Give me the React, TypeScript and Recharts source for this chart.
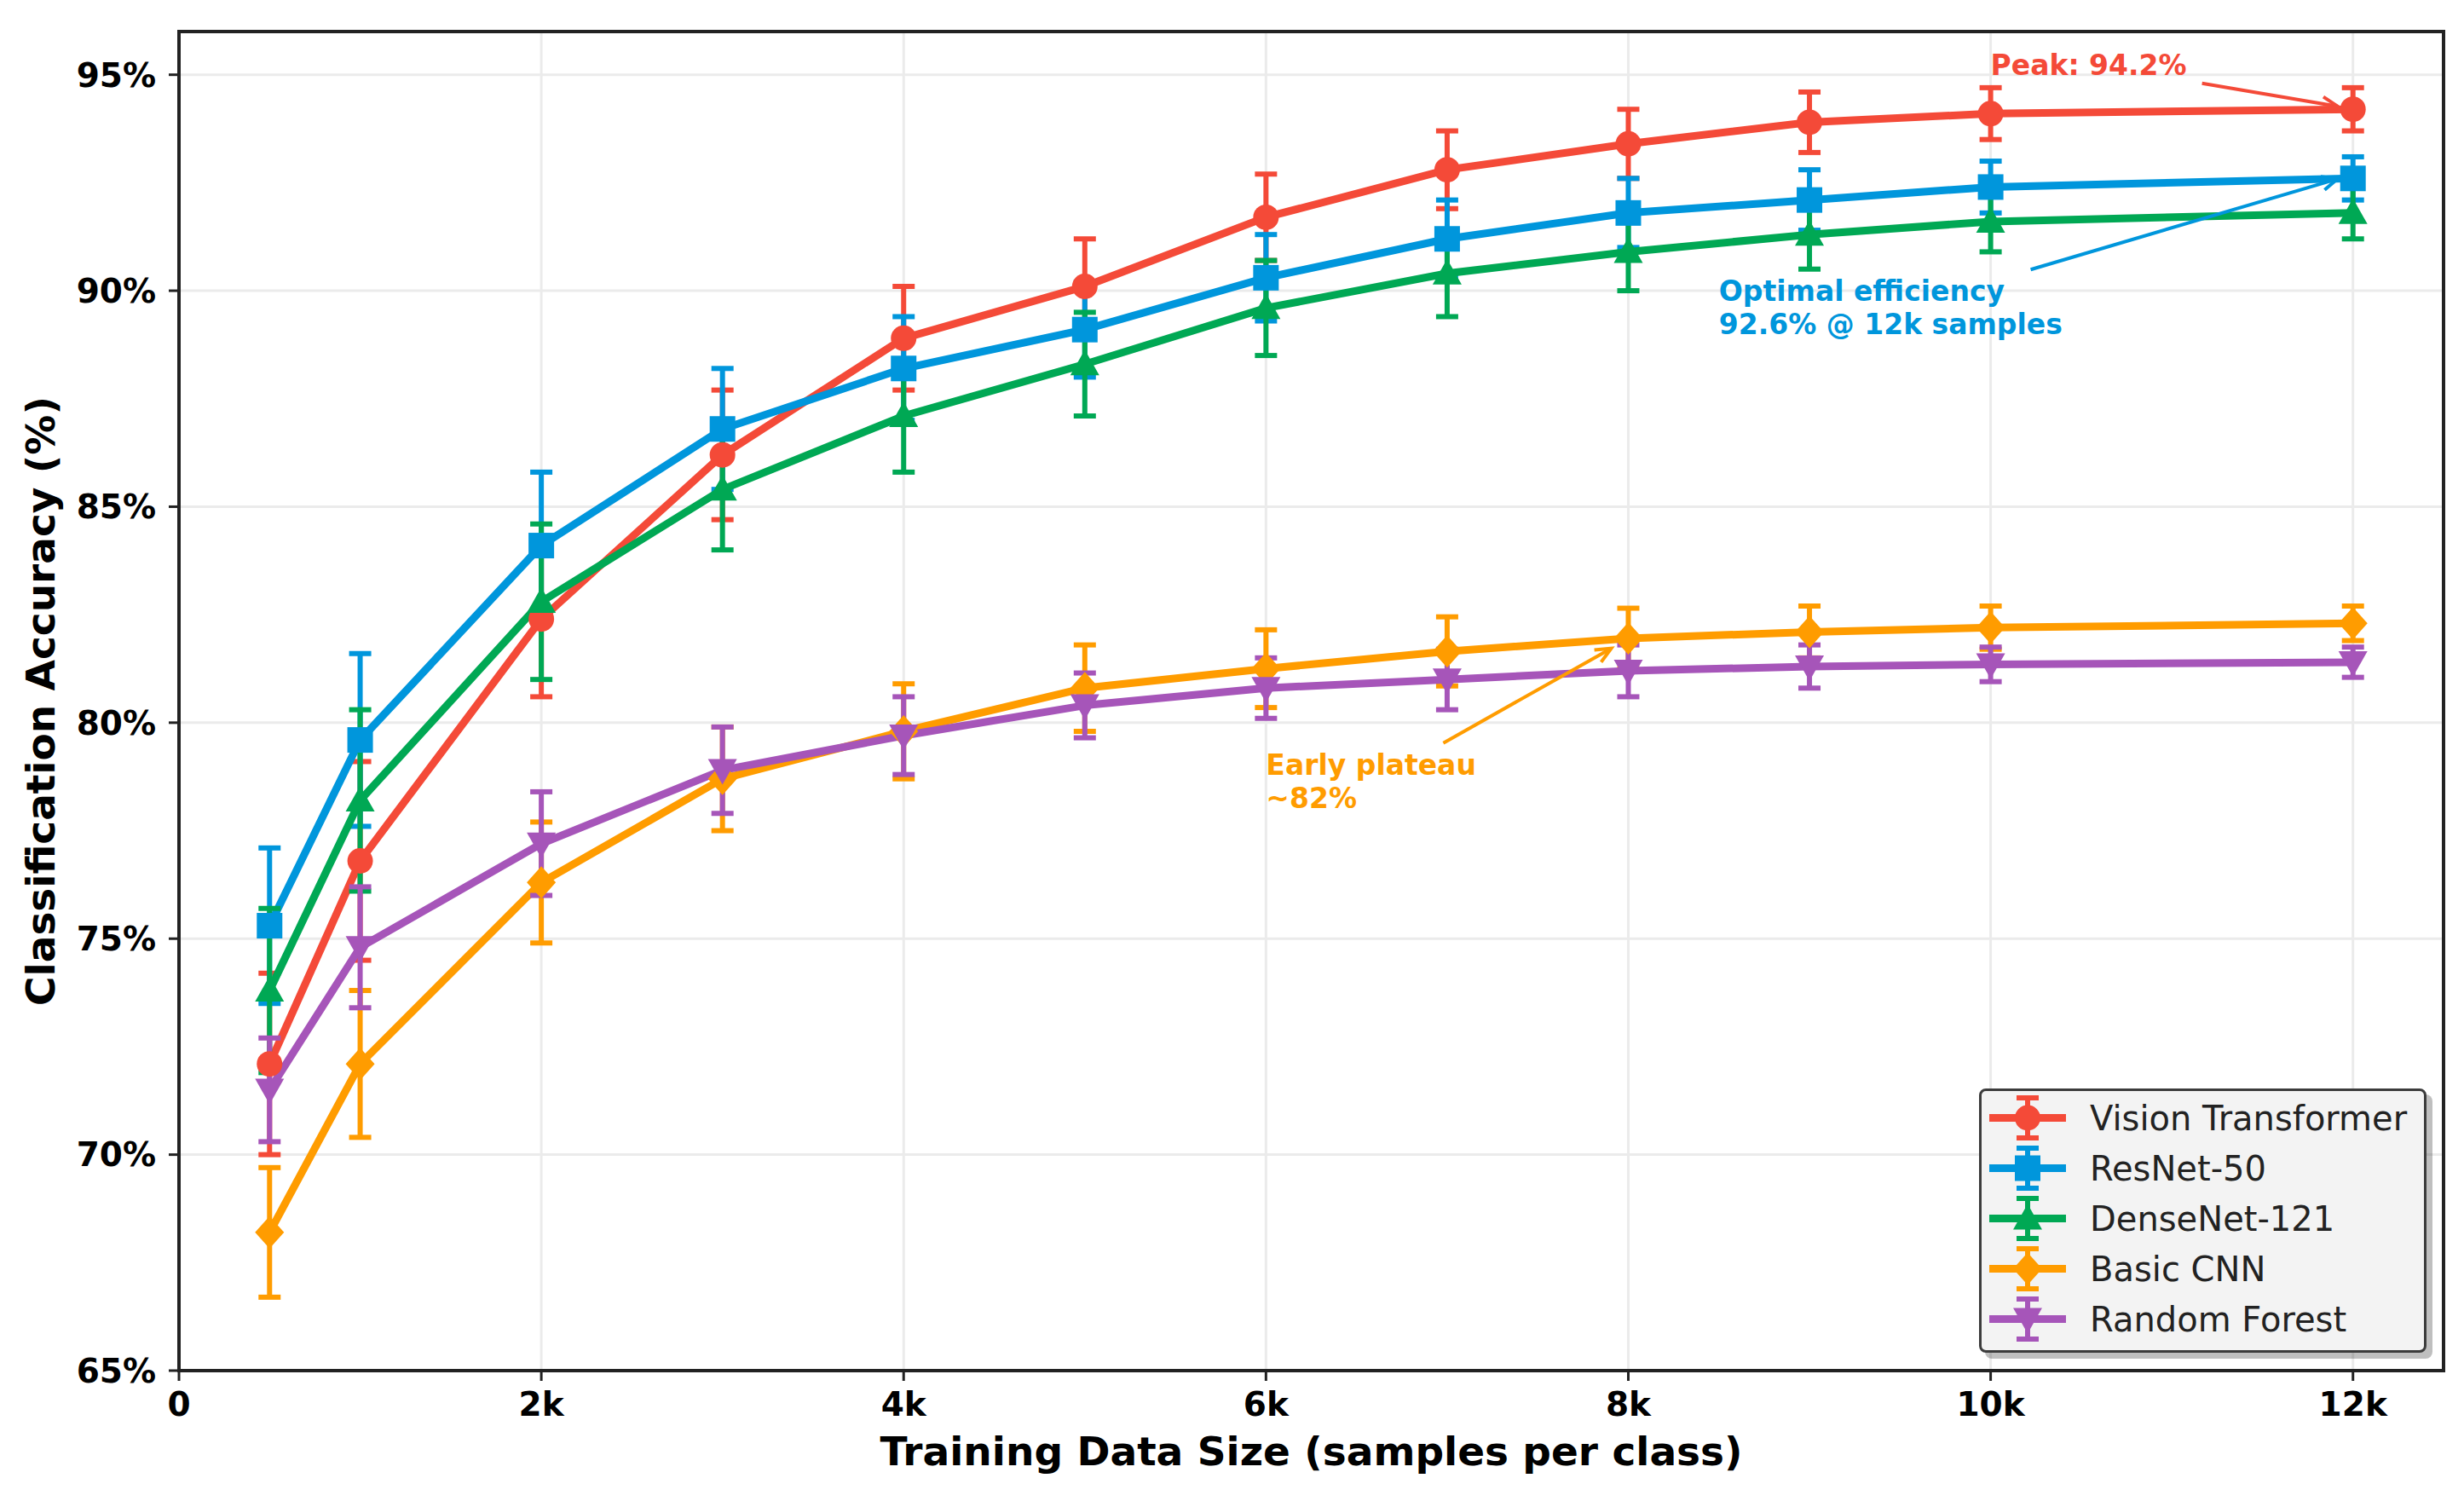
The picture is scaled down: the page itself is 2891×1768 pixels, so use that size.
import React from 'react';
import {
  LineChart, Line, XAxis, YAxis, CartesianGrid, ErrorBar,
  ReferenceArea, ReferenceDot, ReferenceLine, Legend,
} from 'recharts';

const FONT = '"DejaVu Sans", "Liberation Sans", sans-serif';

// ---------- data ----------
const sampleSizes = [500, 1000, 2000, 3000, 4000, 5000, 6000, 7000, 8000, 9000, 10000, 12000];

const vitAcc = [72.1, 76.8, 82.4, 86.2, 88.9, 90.1, 91.7, 92.8, 93.4, 93.9, 94.1, 94.2];
const vitErr = [2.1, 2.3, 1.8, 1.5, 1.2, 1.1, 1.0, 0.9, 0.8, 0.7, 0.6, 0.5];

const resnetAcc = [75.3, 79.6, 84.1, 86.8, 88.2, 89.1, 90.3, 91.2, 91.8, 92.1, 92.4, 92.6];
const resnetErr = [1.8, 2.0, 1.7, 1.4, 1.2, 1.1, 1.0, 0.9, 0.8, 0.7, 0.6, 0.5];

const densenetAcc = [73.8, 78.2, 82.8, 85.4, 87.1, 88.3, 89.6, 90.4, 90.9, 91.3, 91.6, 91.8];
const densenetErr = [1.9, 2.1, 1.8, 1.4, 1.3, 1.2, 1.1, 1.0, 0.9, 0.8, 0.7, 0.6];

const cnnAcc = [68.2, 72.1, 76.3, 78.7, 79.8, 80.8, 81.25, 81.65, 81.95, 82.1, 82.2, 82.3];
const cnnErr = [1.5, 1.7, 1.4, 1.2, 1.1, 1.0, 0.9, 0.8, 0.7, 0.6, 0.5, 0.4];

const rfAcc = [71.5, 74.8, 77.2, 78.9, 79.7, 80.4, 80.8, 81.0, 81.2, 81.3, 81.35, 81.4];
const rfErr = [1.2, 1.4, 1.2, 1.0, 0.9, 0.75, 0.7, 0.7, 0.6, 0.5, 0.4, 0.35];

const xTicks = [0, 2000, 4000, 6000, 8000, 10000, 12000];
const yTicks = [65, 70, 75, 80, 85, 90, 95];

const seriesNames = ['Vision Transformer', 'ResNet-50', 'DenseNet-121', 'Basic CNN', 'Random Forest'];
const seriesKeys = ['vit', 'resnet', 'densenet', 'cnn', 'rf'];
const seriesColors = ['#F44A38', '#0096DC', '#00A854', '#FF9C00', '#A655B9'];
const seriesMarkers = ['circle', 'square', 'triangleUp', 'diamond', 'triangleDown'];

const data = sampleSizes.map((s, i) => ({
  size: s,
  vit: vitAcc[i], vitErr: vitErr[i],
  resnet: resnetAcc[i], resnetErr: resnetErr[i],
  densenet: densenetAcc[i], densenetErr: densenetErr[i],
  cnn: cnnAcc[i], cnnErr: cnnErr[i],
  rf: rfAcc[i], rfErr: rfErr[i],
}));

// ---------- markers ----------
function Marker({ kind, cx, cy, color }: { kind: string; cx: number; cy: number; color: string }) {
  if (kind === 'circle') return <circle cx={cx} cy={cy} r={15} fill={color} />;
  if (kind === 'square') return <rect x={cx - 15} y={cy - 15} width={30} height={30} fill={color} />;
  if (kind === 'triangleUp')
    return <polygon points={`${cx},${cy - 17} ${cx - 17},${cy + 13} ${cx + 17},${cy + 13}`} fill={color} />;
  if (kind === 'triangleDown')
    return <polygon points={`${cx},${cy + 17} ${cx - 17},${cy - 13} ${cx + 17},${cy - 13}`} fill={color} />;
  return <polygon points={`${cx},${cy - 19} ${cx + 17},${cy} ${cx},${cy + 19} ${cx - 17},${cy}`} fill={color} />;
}

const makeDot = (kind: string, color: string) => (props: any) => {
  const { cx, cy, index } = props;
  if (cx == null || cy == null) return <g key={`d-${index}`} />;
  return (
    <g key={`d-${kind}-${index}`}>
      <Marker kind={kind} cx={cx} cy={cy} color={color} />
    </g>
  );
};

// ---------- annotations ----------
const arrowShape = (color: string) => (props: any) => {
  const { x1, y1, x2, y2 } = props;
  const ang = Math.atan2(y2 - y1, x2 - x1);
  const L = 20;
  const a1 = ang + Math.PI - 0.42;
  const a2 = ang + Math.PI + 0.42;
  return (
    <g>
      <line x1={x1} y1={y1} x2={x2} y2={y2} stroke={color} strokeWidth={4} />
      <polyline
        points={`${x2 + L * Math.cos(a1)},${y2 + L * Math.sin(a1)} ${x2},${y2} ${x2 + L * Math.cos(a2)},${y2 + L * Math.sin(a2)}`}
        fill="none" stroke={color} strokeWidth={4}
      />
    </g>
  );
};

const textShape = (lines: string[], color: string) => (props: any) => {
  const { cx, cy } = props;
  return (
    <text x={cx} y={cy} fill={color} fontSize={33} fontWeight={700} fontFamily={FONT}>
      {lines.map((l, i) => (
        <tspan key={i} x={cx} dy={i === 0 ? 0 : 39}>{l}</tspan>
      ))}
    </text>
  );
};

// ---------- legend ----------
const LegendBox = () => (
  <div
    style={{
      boxSizing: 'border-box', width: 525, height: 310, background: '#f3f3f3',
      border: '3px solid #3c3c3c', borderRadius: 8, boxShadow: '7px 7px 0 rgba(0,0,0,0.25)',
      paddingTop: 2,
    }}
  >
    {seriesNames.map((name, i) => (
      <div key={name} style={{ display: 'flex', alignItems: 'center', height: 59 }}>
        <svg width={90} height={59} style={{ marginLeft: 9, flex: 'none' }}>
          <line x1={0} y1={29.5} x2={90} y2={29.5} stroke={seriesColors[i]} strokeWidth={9} />
          <line x1={45} y1={6} x2={45} y2={53} stroke={seriesColors[i]} strokeWidth={6} />
          <line x1={32} y1={6} x2={58} y2={6} stroke={seriesColors[i]} strokeWidth={6} />
          <line x1={32} y1={53} x2={58} y2={53} stroke={seriesColors[i]} strokeWidth={6} />
          <Marker kind={seriesMarkers[i]} cx={45} cy={29.5} color={seriesColors[i]} />
        </svg>
        <span style={{ marginLeft: 28, fontSize: 40, fontFamily: FONT, color: '#222', whiteSpace: 'nowrap' }}>
          {name}
        </span>
      </div>
    ))}
  </div>
);

const tickStyle = { fontSize: 39, fontWeight: 700, fill: '#000', fontFamily: FONT };

export default function App() {
  return (
    <div style={{ position: 'absolute', left: 0, top: 0, width: 2891, height: 1768, background: '#fff' }}>
      <LineChart
        width={2891}
        height={1768}
        data={data}
        margin={{ top: 37, right: 24, bottom: 0, left: 0 }}
      >
        <CartesianGrid stroke="#ebebeb" strokeWidth={3} />
        <XAxis
          type="number"
          dataKey="size"
          domain={[0, 12500]}
          ticks={xTicks}
          allowDataOverflow
          tickFormatter={(v: number) => (v === 0 ? '0' : `${v / 1000}k`)}
          tick={tickStyle}
          tickSize={12}
          tickMargin={13}
          height={160}
          axisLine={{ stroke: '#222', strokeWidth: 4 }}
          tickLine={{ stroke: '#222', strokeWidth: 3 }}
          label={(p: any) => {
            const vb = p.viewBox;
            return (
              <text x={vb.x + vb.width / 2} y={vb.y + 111} textAnchor="middle" fontSize={47}
                fontWeight={700} fontFamily={FONT} fill="#000">
                Training Data Size (samples per class)
              </text>
            );
          }}
        />
        <YAxis
          type="number"
          domain={[65, 96]}
          ticks={yTicks}
          allowDataOverflow
          tickFormatter={(v: number) => `${v}%`}
          tick={tickStyle}
          tickSize={12}
          tickMargin={15}
          width={210}
          axisLine={{ stroke: '#222', strokeWidth: 4 }}
          tickLine={{ stroke: '#222', strokeWidth: 3 }}
          label={(p: any) => {
            const vb = p.viewBox;
            const cx = vb.x + 47;
            const cy = vb.y + vb.height / 2;
            return (
              <text x={cx} y={cy} transform={`rotate(-90, ${cx}, ${cy})`} textAnchor="middle"
                dominantBaseline="central" fontSize={47} fontWeight={700} fontFamily={FONT} fill="#000">
                Classification Accuracy (%)
              </text>
            );
          }}
        />
        <ReferenceArea x1={0} x2={12500} y1={65} y2={96} fill="none" stroke="#222" strokeWidth={4}
          ifOverflow="visible" />

        {seriesKeys.map((k, i) => (
          <Line
            key={k}
            type="linear"
            dataKey={k}
            stroke={seriesColors[i]}
            strokeWidth={9}
            dot={makeDot(seriesMarkers[i], seriesColors[i])}
            activeDot={false}
            isAnimationActive={false}
          >
            <ErrorBar dataKey={`${k}Err`} direction="y" width={13} strokeWidth={6} stroke={seriesColors[i]} />
          </Line>
        ))}

        <ReferenceLine segment={[{ x: 11167, y: 94.8 }, { x: 11915, y: 94.27 }]} shape={arrowShape(seriesColors[0])} ifOverflow="visible" />
        <ReferenceLine segment={[{ x: 10221, y: 90.49 }, { x: 11915, y: 92.59 }]} shape={arrowShape(seriesColors[1])} ifOverflow="visible" />
        <ReferenceLine segment={[{ x: 6979, y: 79.53 }, { x: 7906, y: 81.72 }]} shape={arrowShape(seriesColors[3])} ifOverflow="visible" />

        <ReferenceDot x={10000} y={95} r={1} shape={textShape(['Peak: 94.2%'], seriesColors[0])} ifOverflow="visible" />
        <ReferenceDot x={8500} y={89.76} r={1} shape={textShape(['Optimal efficiency', '92.6% @ 12k samples'], seriesColors[1])} ifOverflow="visible" />
        <ReferenceDot x={6000} y={78.79} r={1} shape={textShape(['Early plateau', '~82%'], seriesColors[3])} ifOverflow="visible" />

        <Legend
          layout="vertical"
          align="center"
          verticalAlign="middle"
          content={() => <LegendBox />}
          wrapperStyle={{ left: 2322, top: 1277, width: 525, height: 310, bottom: 'auto', right: 'auto' }}
        />
      </LineChart>
    </div>
  );
}
